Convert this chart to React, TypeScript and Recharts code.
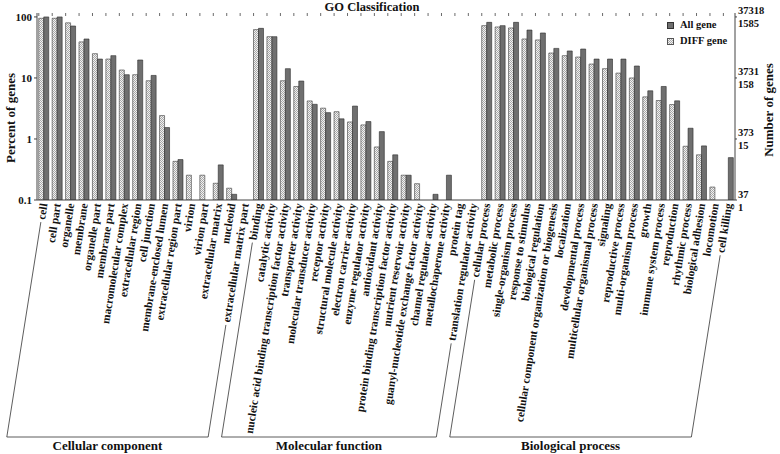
import React from 'react'
import { BarChart, Bar, XAxis, YAxis, Legend } from 'recharts'

// GO terms and percent of genes (DIFF vs All)
const ccTerms = ['cell', 'cell part', 'organelle', 'membrane', 'organelle part', 'membrane part', 'macromolecular complex', 'extracellular region', 'cell junction', 'membrane-enclosed lumen', 'extracellular region part', 'virion', 'virion part', 'extracellular matrix', 'nucleoid', 'extracellular matrix part']
const ccDiff = [95, 95, 80, 39, 25, 20.4, 13.5, 11.3, 9, 2.42, 0.43, 0.255, 0.255, 0.188, 0.156, null]
const ccAll = [100, 100, 71, 43.5, 20.4, 23.2, 11.3, 19.7, 11, 1.54, 0.46, null, null, 0.376, 0.124, null]

const mfTerms = ['binding', 'catalytic activity', 'nucleic acid binding transcription factor activity', 'transporter activity', 'molecular transducer activity', 'receptor activity', 'structural molecule activity', 'electron carrier activity', 'enzyme  regulator activity', 'antioxidant  activity', 'protein binding transcription factor activity', 'nutrient reservoir activity', 'guanyl-nucleotide exchange  factor activity', 'channel  regulator activity', 'metallochaperone activity', 'protein tag', 'translation regulator activity']
const mfDiff = [62, 47.5, 9, 7.25, 4.2, 3.2, 2.8, 1.9, 1.7, 0.74, 0.43, 0.255, 0.185, null, null, null, null]
const mfAll = [65, 47.5, 14.2, 8.9, 3.7, 2.7, 2.14, 3.46, 1.93, 1.32, 0.55, 0.255, null, 0.124, 0.255, null, null]

const bpTerms = ['cellular process', 'metabolic process', 'single-organism process', 'response to stimulus', 'biological regulation', 'cellular component organization or biogenesis', 'localization', 'developmental  process', 'multicellular organismal process', 'signaling', 'reproductive process', 'multi-organism process', 'growth', 'immune system process', 'reproduction', 'rhythmic process', 'biological adhesion', 'locomotion', 'cell killing']
const bpDiff = [72, 68.5, 66, 43.5, 42, 25.6, 23.2, 22, 16.9, 14.2, 12, 10, 4.9, 4.27, 3.67, 0.76, 0.55, 0.163, null]
const bpAll = [81.5, 72, 81.5, 61, 54.6, 30.5, 27.7, 29.8, 20.4, 20.4, 20.4, 15.7, 6.16, 7.25, 4.22, 1.5, 0.77, null, 0.495]

const groupNames = ['Cellular component', 'Molecular function', 'Biological process']
const percentTicks = [0.1, 1, 10, 100]
const allGeneTicks = ['37', '373', '3731', '37318']
const diffGeneTicks = ['1', '15', '158', '1585']

const groups = [
  { terms: ccTerms, diff: ccDiff, all: ccAll },
  { terms: mfTerms, diff: mfDiff, all: mfAll },
  { terms: bpTerms, diff: bpDiff, all: bpAll },
]

const rows = groups.flatMap((g, gi) =>
  g.terms.map((name, i) => ({
    name,
    diff: g.diff[i],
    all: g.all[i],
    group: gi,
    size: g.terms.length,
    first: i === 0,
    last: i === g.terms.length - 1,
  }))
)
const rowByName = new Map(rows.map((r) => [r.name, r]))

const FONT = "'Liberation Serif', 'Times New Roman', serif"
const W = 780
const H = 454
const LEFT_W = 37
const RIGHT_W = 45
const TOP = 13
const PLOT_H = 187
const BAND = (W - LEFT_W - RIGHT_W) / rows.length
const ANGLE = 81
const DX = Math.cos((ANGLE * Math.PI) / 180)
const DY = Math.sin((ANGLE * Math.PI) / 180)
const LABEL_Y = 204
const FOOT_Y = 437
const LABEL_FONT = 11.3

let ctx: CanvasRenderingContext2D | null = null
function measure(s: string) {
  if (!ctx) ctx = document.createElement('canvas').getContext('2d')
  if (!ctx) return s.length * 5.2
  ctx.font = `bold ${LABEL_FONT}px ${FONT}`
  return ctx.measureText(s).width
}

function CategoryTick(props: any) {
  const { x, payload } = props
  const row = rowByName.get(payload.value)
  if (!row) return null
  const ax = x + 3.8
  const len = measure(row.name)
  const footX = x - (FOOT_Y - LABEL_Y) * (DX / DY)
  const parts: React.ReactNode[] = []
  parts.push(
    <text key="t" x={ax} y={LABEL_Y} transform={`rotate(-${ANGLE} ${ax} ${LABEL_Y})`} textAnchor="end"
      fontFamily={FONT} fontSize={LABEL_FONT} fontWeight="bold" fill="#111">
      {row.name}
    </text>
  )
  const tx = x - BAND / 2 + 1.8
  parts.push(<line key="tt" x1={tx} y1={TOP} x2={tx} y2={TOP + 3} stroke="#444" strokeWidth={0.8} />)
  if (row.first || row.last) {
    const sx = x - DX * (len + 2)
    const sy = LABEL_Y + DY * (len + 2)
    parts.push(<line key="s" x1={sx} y1={sy} x2={footX} y2={FOOT_Y} stroke="#333" strokeWidth={0.8} />)
  }
  if (row.last) {
    const firstFoot = footX - (row.size - 1) * BAND
    parts.push(<line key="f" x1={firstFoot} y1={FOOT_Y} x2={footX} y2={FOOT_Y} stroke="#333" strokeWidth={0.8} />)
    parts.push(
      <text key="g" x={(firstFoot + footX) / 2} y={450} textAnchor="middle" fontFamily={FONT} fontSize={13} fontWeight="bold" fill="#111">
        {groupNames[row.group]}
      </text>
    )
  }
  return <g>{parts}</g>
}

function CountTick(props: any) {
  const { x, y, payload } = props
  const i = percentTicks.indexOf(payload.value)
  if (i < 0) return null
  return (
    <g fontFamily={FONT} fontSize={10.5} fontWeight="bold" fill="#111">
      <text x={x} y={y - 6} dominantBaseline="central">{allGeneTicks[i]}</text>
      <text x={x} y={y + 7} dominantBaseline="central">{diffGeneTicks[i]}</text>
    </g>
  )
}

function LegendBox() {
  return (
    <div style={{ fontFamily: FONT, fontSize: 10.5, fontWeight: 'bold', color: '#111', lineHeight: '16px' }}>
      <div style={{ display: 'flex', alignItems: 'center' }}>
        <span style={{ width: 5, height: 5, background: '#6f6f6f', border: '1px solid #333', marginRight: 6 }} />
        All gene
      </div>
      <div style={{ display: 'flex', alignItems: 'center' }}>
        <span style={{ width: 5, height: 5, background: 'repeating-conic-gradient(#aaa 0% 25%, #f2f2f2 0% 50%) 0 0 / 2px 2px', border: '1px solid #555', marginRight: 6 }} />
        DIFF gene
      </div>
    </div>
  )
}

export default function App() {
  return (
    <div style={{ position: 'absolute', left: 0, top: 0, width: W, height: H, background: '#fff' }}>
      <BarChart width={W} height={H} data={rows} margin={{ top: TOP, right: 0, bottom: 0, left: 0 }}
        barCategoryGap="13%" barGap={0}>
        <defs>
          <pattern id="dots" width="2" height="2" patternUnits="userSpaceOnUse">
            <rect width="2" height="2" fill="#f2f2f2" />
            <rect width="1" height="1" fill="#a8a8a8" />
            <rect x="1" y="1" width="1" height="1" fill="#a8a8a8" />
          </pattern>
        </defs>
        <XAxis dataKey="name" interval={0} height={H - TOP - PLOT_H} tick={<CategoryTick />}
          tickLine={false} axisLine={{ stroke: '#444' }} />
        <XAxis xAxisId="top" dataKey="name" orientation="top" height={0} tick={false} tickLine={false}
          axisLine={{ stroke: '#444' }} />
        <YAxis yAxisId="left" scale="log" domain={[0.1, 116]} allowDataOverflow ticks={percentTicks}
          width={LEFT_W} tickSize={3} tickLine={{ stroke: '#444' }} axisLine={{ stroke: '#444' }}
          tickFormatter={(v) => String(v)}
          tick={{ fontFamily: FONT, fontSize: 11, fontWeight: 'bold', fill: '#111' }} />
        <YAxis yAxisId="right" orientation="right" scale="log" domain={[0.1, 116]} allowDataOverflow
          ticks={percentTicks} width={RIGHT_W} tickSize={2} tickMargin={1} tickLine={{ stroke: '#444' }}
          axisLine={{ stroke: '#444' }} tick={<CountTick />} />
        <Legend layout="vertical" align="center" verticalAlign="middle"
          wrapperStyle={{ top: 17, left: 667, width: 80 }} content={() => <LegendBox />} />
        <Bar yAxisId="left" dataKey="diff" name="DIFF gene" fill="url(#dots)" stroke="#3a3a3a" strokeWidth={0.6}
          isAnimationActive={false} />
        <Bar yAxisId="left" dataKey="all" name="All gene" fill="#6f6f6f" stroke="#2a2a2a" strokeWidth={0.6}
          isAnimationActive={false} />
      </BarChart>
      <svg width={W} height={H} style={{ position: 'absolute', left: 0, top: 0, pointerEvents: 'none' }}>
        <g fontFamily={FONT} fontWeight="bold" fill="#111">
          <text x={372} y={11} textAnchor="middle" fontSize={12.5}>GO Classification</text>
          <text x={15} y={118} textAnchor="middle" fontSize={13} transform="rotate(-90 15 118)">Percent of genes</text>
          <text x={773} y={110} textAnchor="middle" fontSize={13} transform="rotate(-90 773 110)">Number of genes</text>
        </g>
      </svg>
    </div>
  )
}
